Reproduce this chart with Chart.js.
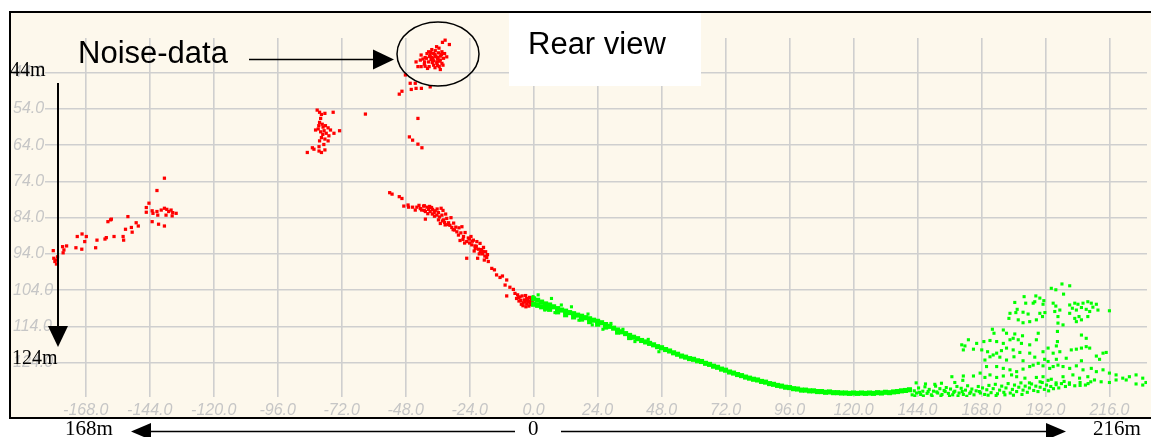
<!DOCTYPE html>
<html><head><meta charset="utf-8">
<script src="https://cdn.jsdelivr.net/npm/chart.js@4.4.1/dist/chart.umd.min.js"></script>
<style>html,body{margin:0;padding:0;background:#fff;}canvas{display:block;}</style>
</head><body>
<canvas id="c" width="1151" height="437"></canvas>
<script>
const xTicks = [-168,-144,-120,-96,-72,-48,-24,0,24,48,72,96,120,144,168,192,216];
const yTicks = [44,54,64,74,84,94,104,114,124];

// red: noise / rear-view points
const redLeft = [[-138.5,73.1],[-141.3,76.5],[-144.3,80.0],[-145.3,81.2],[-145.3,82.5],[-143.1,82.1],[-142.8,82.8],[-141.3,82.3],[-141.0,83.3],[-139.7,81.9],[-138.5,81.4],[-137.6,81.7],[-136.9,82.3],[-136.0,81.9],[-135.4,82.6],[-134.1,82.8],[-137.9,83.3],[-135.6,83.5],[-143.1,85.1],[-140.7,85.8],[-138.5,86.3],[-152.2,83.7],[-158.4,84.4],[-158.7,84.6],[-159.7,85.1],[-149.1,85.4],[-148.3,86.3],[-150.9,86.7],[-153.1,87.2],[-150.6,88.0],[-157.4,89.2],[-160.3,89.5],[-160.8,89.9],[-163.8,90.2],[-164.3,92.3],[-154.0,89.2],[-153.8,90.2],[-167.8,89.2],[-169.4,88.5],[-171.2,89.2],[-168.4,90.6],[-171.7,92.3],[-169.5,92.7],[-175.2,91.8],[-176.7,92.0],[-176.2,92.9],[-176.5,93.7],[-180.2,93.1],[-180.0,95.2],[-179.6,96.1],[-179.0,96.8],[-179.2,95.7],[-178.6,94.8]];
const redMid = [[-81.2,54.3],[-80.3,54.9],[-79.6,55.5],[-78.3,55.2],[-75.2,54.9],[-63.1,55.4],[-79.9,56.6],[-80.3,57.7],[-79.3,58.2],[-78.1,58.6],[-77.1,59.2],[-76.2,59.8],[-72.8,60.0],[-81.8,59.8],[-80.8,59.5],[-79.9,60.3],[-79.1,61.0],[-77.8,60.7],[-76.8,61.4],[-74.9,60.7],[-79.6,61.9],[-78.3,62.3],[-80.3,62.8],[-77.1,62.8],[-83.0,64.7],[-82.4,65.1],[-84.9,66.0],[-80.5,65.6],[-79.6,66.0],[-78.3,65.3],[-80.5,64.4],[-78.7,63.8],[-79.0,59.0],[-78.6,60.0],[-80.6,58.6]];
const redNoise = [[-33.2,35.0],[-34.2,35.6],[-31.6,36.2],[-38.2,37.6],[-39.4,38.2],[-36.9,37.9],[-35.7,38.5],[-34.4,38.2],[-33.4,38.7],[-37.5,38.7],[-38.8,39.1],[-40.0,38.7],[-42.2,39.1],[-40.7,39.8],[-38.2,39.8],[-36.9,39.4],[-35.9,39.8],[-35.0,39.4],[-44.1,41.0],[-42.5,40.5],[-40.9,41.0],[-39.4,41.0],[-37.5,40.7],[-36.3,41.0],[-35.0,40.5],[-34.4,41.4],[-43.4,42.3],[-42.2,42.3],[-40.7,42.2],[-39.2,42.3],[-37.5,41.9],[-35.4,42.3],[-35.0,43.1],[-36.3,41.4],[-33.8,40.0],[-32.6,39.6],[-37.0,39.0],[-36.0,40.2],[-38.5,40.3],[-34.6,39.0],
  [-39.0,39.5],[-37.8,40.0],[-36.6,39.6],[-35.4,40.8],[-38.0,41.2],[-41.5,40.2],[-40.2,40.0],[-37.0,42.6],[-36.0,42.0],[-39.8,42.8],[-41.0,41.6],[-34.0,41.9],[-38.6,38.4],[-35.5,37.2],[-36.4,36.8],
  [-48.1,44.6],[-46.3,46.9],[-44.4,46.9],[-45.9,48.6],[-44.1,48.3],[-42.1,48.3],[-38.8,47.9],[-49.4,49.1],[-50.4,49.9],[-43.4,56.6],[-46.6,61.7],[-45.4,62.6],[-43.4,63.7],[-41.9,64.7]];
const redSlope = [[-54.0,77.1],[-53.1,77.5],[-50.4,78.2],[-49.4,78.7],[-48.7,80.8],[-47.1,80.5],[-46.9,81.1],[-45.4,81.1],[-44.4,81.9],[-43.8,81.1],[-41.3,80.8],[-40.0,81.1],[-39.4,81.7],[-40.6,82.3],[-38.8,82.3],[-37.9,81.7],[-36.9,82.1],[-35.7,82.6],[-34.7,81.4],[-36.3,83.3],[-34.4,83.3],[-40.6,84.4],[-35.7,84.6],[-33.8,84.6],[-32.6,84.2],[-35.0,85.6],[-33.2,86.0],[-31.9,85.4],[-30.7,86.7],[-29.7,87.4],[-28.8,87.9],[-26.9,86.5],[-28.2,88.8],[-27.6,90.3],[-26.3,89.2],[-25.7,88.1],[-25.1,90.6],[-23.5,89.2],[-22.6,90.2],[-21.3,90.6],[-20.1,91.1],[-23.2,91.5],[-21.9,92.5],[-20.7,92.7],[-18.8,92.2],[-18.0,93.4],[-19.2,94.0],[-17.6,95.0],[-21.0,95.2],[-25.1,95.2],[-18.5,95.7],[-17.0,96.1],[-15.7,98.0],[-14.7,98.4],[-13.9,99.8],[-12.6,100.5],[-11.7,100.1],[-10.1,101.2],[-10.7,102.6],[-8.9,103.2],[-7.6,103.8],[-7.0,104.9],[-10.1,105.6],[-6.0,105.3],[-5.1,105.9],[-4.3,105.6],[-3.5,106.7],[-2.6,106.3],[-2.0,107.2],[-1.4,107.6],[-2.6,107.8],[-3.9,107.5],[-1.0,106.7],[-1.8,108.4],[-4.8,106.9],[-6.4,106.3],
  [-42.5,81.5],[-41.0,82.0],[-39.0,80.9],[-38.0,83.0],[-37.2,83.6],[-34.0,82.0],[-33.0,83.0],[-31.0,84.0],[-30.0,85.5],[-28.0,86.8],[-24.5,89.6],[-24.0,91.0],[-22.0,91.8],[-20.0,93.5],[-19.5,92.8],[-5.5,107.0],[-3.0,105.5],[-0.8,108.0],[-4.0,108.3],[-1.5,106.0],
  [-43.0,80.6],[-42.0,81.9],[-41.0,80.7],[-39.7,82.9],[-38.3,81.2],[-37.3,82.6],[-36.2,81.6],[-35.3,83.8],[-34.2,84.9],[-33.4,85.3],[-32.2,85.9],[-31.4,86.1],[-30.2,87.3],[-29.2,86.6],[-27.3,88.2],[-26.5,90.0],[-25.9,91.0],[-24.1,89.9],[-23.0,90.5],[-22.3,93.2],[-21.5,91.9],[-20.4,94.0],[-19.0,93.3],[-18.3,94.6],[-17.3,94.2],[-2.3,106.8],[-1.2,107.1],[-3.2,107.1],[-0.5,107.4],[-0.3,106.2],[-4.6,107.9],[-2.9,108.6],[-5.6,106.0]];

// green: ground points
const greenBand = [[0,106.4],[0,107.9],[1.5,106.8],[1.5,108.2],[3,107.3],[3,108.6],[4.5,107.8],[4.5,109.0],[6,108.1],[6,109.3],[7.5,108.6],[9,109.1],[9,110.0],[10.5,109.5],[12,109.8],[12,110.8],[13.5,110.2],[15,110.5],[15,111.4],[16.5,110.9],[18,111.2],[18,112.0],[19.5,111.6],[21,111.9],[21,112.7],[22.5,112.3],[24,112.6],[24,113.4],[25.5,113.0],[27,113.5],[27,114.2],[28.5,114.0],[30,114.5],[31.5,115.0],[31.5,115.6],[33,115.5],[34.5,116.0],[36,116.5],[36,117.1],[37.5,117.0],[39,117.4],[40.5,117.9],[42,118.3],[43.5,118.7],[45,119.1],[46.5,119.6],[48,119.9],[49.5,120.4],[51,120.8],[52.5,121.3],[54,121.7],[55.5,122.2],[57,122.5],[58.5,122.9],[60,123.1],[61.5,123.5],[63,123.7],[64.5,124.2],[66,124.5],[67.5,125.0],[69,125.3],[70.5,125.8],[72,126.1],[73.5,126.6],[75,126.9],[76.5,127.3],[78,127.6],[79.5,128.0],[81,128.3],[82.5,128.6],[84,128.8],[85.5,129.2],[87,129.4],[88.5,129.8],[90,130.0],[91.5,130.3],[93,130.5],[94.5,130.8],[96,130.9],[97.5,131.2],[99,131.3],[100.5,131.6],[102,131.6],[103.5,131.8],[105,131.8],[106.5,132.0],[108,132.0],[109.5,132.2],[111,132.1],[112.5,132.3],[114,132.3],[115.5,132.4],[117,132.4],[118.5,132.5],[120,132.4],[121.5,132.5],[123,132.4],[124.5,132.5],[126,132.4],[127.5,132.5],[129,132.3],[130.5,132.4],[132,132.2],[133.5,132.3],[135,132.1],[136.5,132.0],[138,131.8],[139.5,131.7],[141,131.5]];
const greenRight = [[142,132.9],[142.8,131.8],[143.6,132.4],[144.4,131.0],[145.2,132.8],[146,131.9],[146.8,130.7],[147.6,132.5],[148.4,131.4],[149.2,132.9],[150,131.9],[150.8,130.5],[151.6,132.4],[152.4,131.2],[153.2,132.8],[154,131.7],[154.8,130.9],[155.6,132.5],[156.4,131.3],[157.2,132.9],[158,131.9],[158.8,130.6],[159.6,132.4],[160.4,131.1],[161.2,132.8],[162,131.6],[162.8,130.4],[163.6,132.5],[164.4,131.3],[165.2,132.9],[166,131.8],[166.8,130.6],[167.6,132.4],[168.4,131.0],[169.2,132.8],[170,131.5],[170.8,130.3],[171.6,132.3],[172.4,131.2],[173.2,130.0],[174,132.6],[174.8,131.6],[175.6,130.5],[176.4,132.2],[177.2,131.0],[178,129.8],[178.8,132.4],[179.6,131.4],[180.4,130.2],[181.2,132.0],[182,130.8],[182.8,129.6],[183.6,131.6],[184.4,130.5],[185.2,132.2],[186,131.0],[186.8,129.9],[187.6,131.7],[188.4,130.5],[189.2,132.0],[190,130.8],[190.8,129.5],[191.6,131.4],[192.4,130.2],[193.2,131.8],[194,130.6],[195,131.2],[196,130.1],[197,131.0],[198,129.8],[199.5,130.6],[201,129.6],[203,130.4],[205,129.5],[207,130.2],[209,129.3],
  [143,133.2],[146.2,133.2],[149.5,133.3],[152.8,133.2],[156,133.3],[159.2,133.2],[162.5,133.3],[144.8,132.2],[148,132.0],[151.2,132.1],[154.4,132.0],[157.6,132.2],[160.8,132.0],[164,132.1],[167.2,132.0],[170.5,133.0],[173.5,133.1],[176.8,132.9],[180,133.0],[183.2,132.8]];
const greenPoints = [[1.7,105.3],[6.7,106.3],[14.2,108.6],[20.4,110.6],[10.4,108.1],[-0.2,105.8],[4.2,109.5],[8.0,110.2],[17.0,112.3],[22.0,113.6],[26.0,114.8],[29.0,113.2],[33.5,114.8],[38.0,118.2],[43.0,117.6],[47.0,121.0],[143.5,129.6],[147.0,129.9],[150.5,130.0],[153.0,129.7],[158.0,129.5],[161.0,128.9],
  [198.2,102.3],[201.1,102.8],[194.2,103.5],[195.9,103.9],[198.8,105.1],[184.0,105.8],[188.4,105.6],[189.9,106.2],[191.4,106.9],[188.0,107.2],[180.5,107.4],[184.6,107.6],[187.4,107.6],[191.1,107.9],[194.9,107.6],[195.9,108.4],[201.1,108.1],[203.0,107.6],[204.2,107.9],[206.1,107.6],[207.9,107.2],[209.2,107.6],[211.1,107.9],[209.8,108.7],[211.7,109.5],[202.1,109.0],[203.6,109.5],[205.5,108.8],[207.3,109.3],[208.6,109.9],[216.0,109.7],[181.4,109.3],[180.9,110.2],[178.7,110.4],[183.6,110.1],[185.5,110.6],[189.9,110.4],[191.8,110.2],[195.5,109.9],[197.4,109.5],[196.7,111.3],[201.1,110.4],[203.0,111.8],[204.6,111.3],[205.5,112.2],[207.9,111.3],[178.3,111.8],[181.8,112.2],[183.6,113.0],[186.1,112.7],[188.6,112.2],[190.9,111.3],[196.7,113.1],[198.6,113.6],[203.6,112.7],
  [172.1,114.8],[172.7,115.9],[176.2,115.0],[177.4,115.9],[180.5,116.1],[179.9,117.3],[183.4,116.6],[189.3,115.9],[196.5,115.4],[205.5,116.4],[207.3,117.3],[163.1,117.7],[166.2,118.7],[168.9,118.2],[171.2,117.9],[173.7,118.2],[176.2,118.7],[178.7,117.7],[181.8,117.7],[183.0,118.7],[186.1,119.1],[188.6,117.7],[196.5,118.2],[196.1,119.4],[193.0,120.0],[197.4,121.0],[201.7,120.5],[203.6,120.3],[205.5,120.0],[207.3,119.6],[208.6,120.0],[160.6,119.1],[161.8,119.4],[165.0,120.3],[168.1,120.5],[170.3,121.0],[173.7,121.4],[175.5,120.7],[177.4,120.0],[179.9,120.5],[182.4,121.2],[186.1,121.4],[191.1,121.0],[194.9,121.4],[161.2,120.5],
  [169.3,123.3],[171.2,122.4],[172.4,121.9],[174.9,122.5],[177.4,123.3],[180.2,122.4],[183.6,123.5],[188.0,122.5],[191.7,123.1],[193.0,123.7],[196.1,123.1],[199.8,122.8],[205.5,123.5],[211.1,122.2],[212.3,123.1],[213.6,121.4],[214.8,121.2],[169.9,125.1],[173.7,125.1],[176.2,125.6],[178.7,126.0],[181.2,126.5],[183.6,125.8],[186.1,125.1],[187.4,124.7],[189.3,124.2],[191.1,124.9],[193.6,125.6],[194.9,125.1],[196.7,124.7],[198.6,125.1],[201.1,125.6],[203.6,124.9],[206.1,126.0],[209.2,125.6],[211.1,126.5],[213.6,126.0],[216.0,126.9],[218.5,127.4],[221.0,128.3],[223.5,127.9],[226.0,127.4],[228.5,128.3],
  [156.9,127.9],[161.2,127.7],[165.0,127.7],[167.5,126.9],[169.3,128.1],[171.2,127.4],[173.7,128.1],[176.2,127.7],[179.3,127.4],[181.2,127.9],[184.3,128.3],[188.6,128.1],[191.1,127.9],[194.2,128.6],[198.6,127.9],[202.3,127.4],[204.8,128.3],[207.9,127.9],[210.4,128.8],[212.9,129.3],[216.0,129.5],[218.5,128.8],[222.3,128.8],[226.0,129.9],[228.5,130.2],[229.7,129.5],
  [186.0,129.6],[190.0,129.3],[193.0,128.9],[196.0,129.6],[199.0,129.2],[201.0,130.0],[205.0,130.3],[208.0,129.8]];

const toXY = a => a.map(p => ({x: p[0], y: p[1]}));
const SANS = "'Liberation Sans', Arial, sans-serif";
const SERIF = "'Liberation Serif', 'Times New Roman', serif";

function arrowHead(c, tipX, tipY, baseX1, baseY1, baseX2, baseY2) {
  c.beginPath(); c.moveTo(tipX, tipY); c.lineTo(baseX1, baseY1); c.lineTo(baseX2, baseY2); c.closePath(); c.fill();
}

const decor = {
  id: 'decor',
  beforeDraw(chart) {
    const c = chart.ctx;
    c.save();
    c.fillStyle = '#ffffff'; c.fillRect(0, 0, 1151, 437);
    c.fillStyle = '#fdf8ec'; c.fillRect(10, 12, 1142, 406);
    c.restore();
  },
  afterDraw(chart) {
    const c = chart.ctx;
    c.save();
    c.strokeStyle = '#000'; c.lineWidth = 2;
    c.strokeRect(10, 12, 1150, 406);
    c.fillStyle = '#fff'; c.fillRect(509, 13, 192, 73);
    c.fillStyle = '#000';
    c.font = '31px ' + SANS; c.textBaseline = 'alphabetic'; c.textAlign = 'left';
    c.fillText('Rear view', 528, 54);
    c.fillText('Noise-data', 78, 63);
    c.lineWidth = 1.5;
    c.beginPath(); c.moveTo(249, 59.5); c.lineTo(376, 59.5); c.stroke();
    arrowHead(c, 394, 59.5, 373, 49.5, 373, 69.5);
    c.beginPath(); c.ellipse(438, 54, 41, 32, 0, 0, Math.PI * 2); c.stroke();
    c.lineWidth = 2;
    c.beginPath(); c.moveTo(58, 83); c.lineTo(58, 330); c.stroke();
    arrowHead(c, 58, 347, 48, 326, 68, 326);
    c.font = '20px ' + SERIF;
    c.fillText('44m', 10, 76);
    c.fillText('124m', 12, 364);
    c.font = '21px ' + SERIF;
    c.fillText('168m', 65, 435);
    c.fillText('0', 528, 435);
    c.fillText('216m', 1093, 435);
    c.lineWidth = 1.5;
    c.beginPath(); c.moveTo(148, 431.5); c.lineTo(515, 431.5); c.stroke();
    arrowHead(c, 131, 431.5, 151, 423, 151, 440);
    c.beginPath(); c.moveTo(561, 431.5); c.lineTo(1049, 431.5); c.stroke();
    arrowHead(c, 1066, 431.5, 1046, 423, 1046, 440);
    c.restore();
  }
};

const tickFont = {family: SANS, size: 16, style: 'italic'};
new Chart(document.getElementById('c'), {
  type: 'scatter',
  data: {
    datasets: [
      {data: toXY(greenBand), backgroundColor: '#00ff00', borderWidth: 0, pointStyle: 'rect', pointRadius: 3.6},
      {data: toXY(greenRight), backgroundColor: '#00ff00', borderWidth: 0, pointStyle: 'rect', pointRadius: 2.2},
      {data: toXY(greenPoints), backgroundColor: '#00ff00', borderWidth: 0, pointStyle: 'rect', pointRadius: 2.2},
      {data: toXY(redLeft.concat(redMid, redNoise, redSlope)), backgroundColor: '#ff0000', borderWidth: 0, pointStyle: 'rect', pointRadius: 2.3}
    ]
  },
  options: {
    responsive: false, animation: false, devicePixelRatio: 1,
    layout: {padding: {left: 13, top: 38, right: 0, bottom: 0}},
    plugins: {legend: {display: false}, tooltip: {enabled: false}},
    events: [],
    scales: {
      x: {
        type: 'linear', position: 'bottom', min: -183.3, max: 230.1,
        afterBuildTicks: s => { s.ticks = xTicks.map(v => ({value: v})); },
        afterFit: s => { s.height = 40; s.paddingLeft = 0; s.paddingRight = 0; },
        grid: {color: '#cfcfcf', lineWidth: 1.6, drawTicks: false},
        border: {display: false},
        ticks: {autoSkip: false, maxRotation: 0, minRotation: 0, padding: 4, color: '#c6c6c6', font: tickFont, callback: v => Number(v).toFixed(1)}
      },
      y: {
        type: 'linear', position: 'left', reverse: true, min: 34.4, max: 133.5,
        afterBuildTicks: s => { s.ticks = yTicks.map(v => ({value: v})); },
        afterFit: s => { s.width = 32; s.paddingTop = 0; s.paddingBottom = 0; },
        grid: {color: '#cfcfcf', lineWidth: 1.6, drawTicks: false},
        border: {display: false},
        ticks: {autoSkip: false, mirror: true, crossAlign: 'near', padding: -32, color: '#c6c6c6', font: tickFont, callback: v => Number(v).toFixed(1)}
      }
    }
  },
  plugins: [decor]
});
</script>
</body></html>
